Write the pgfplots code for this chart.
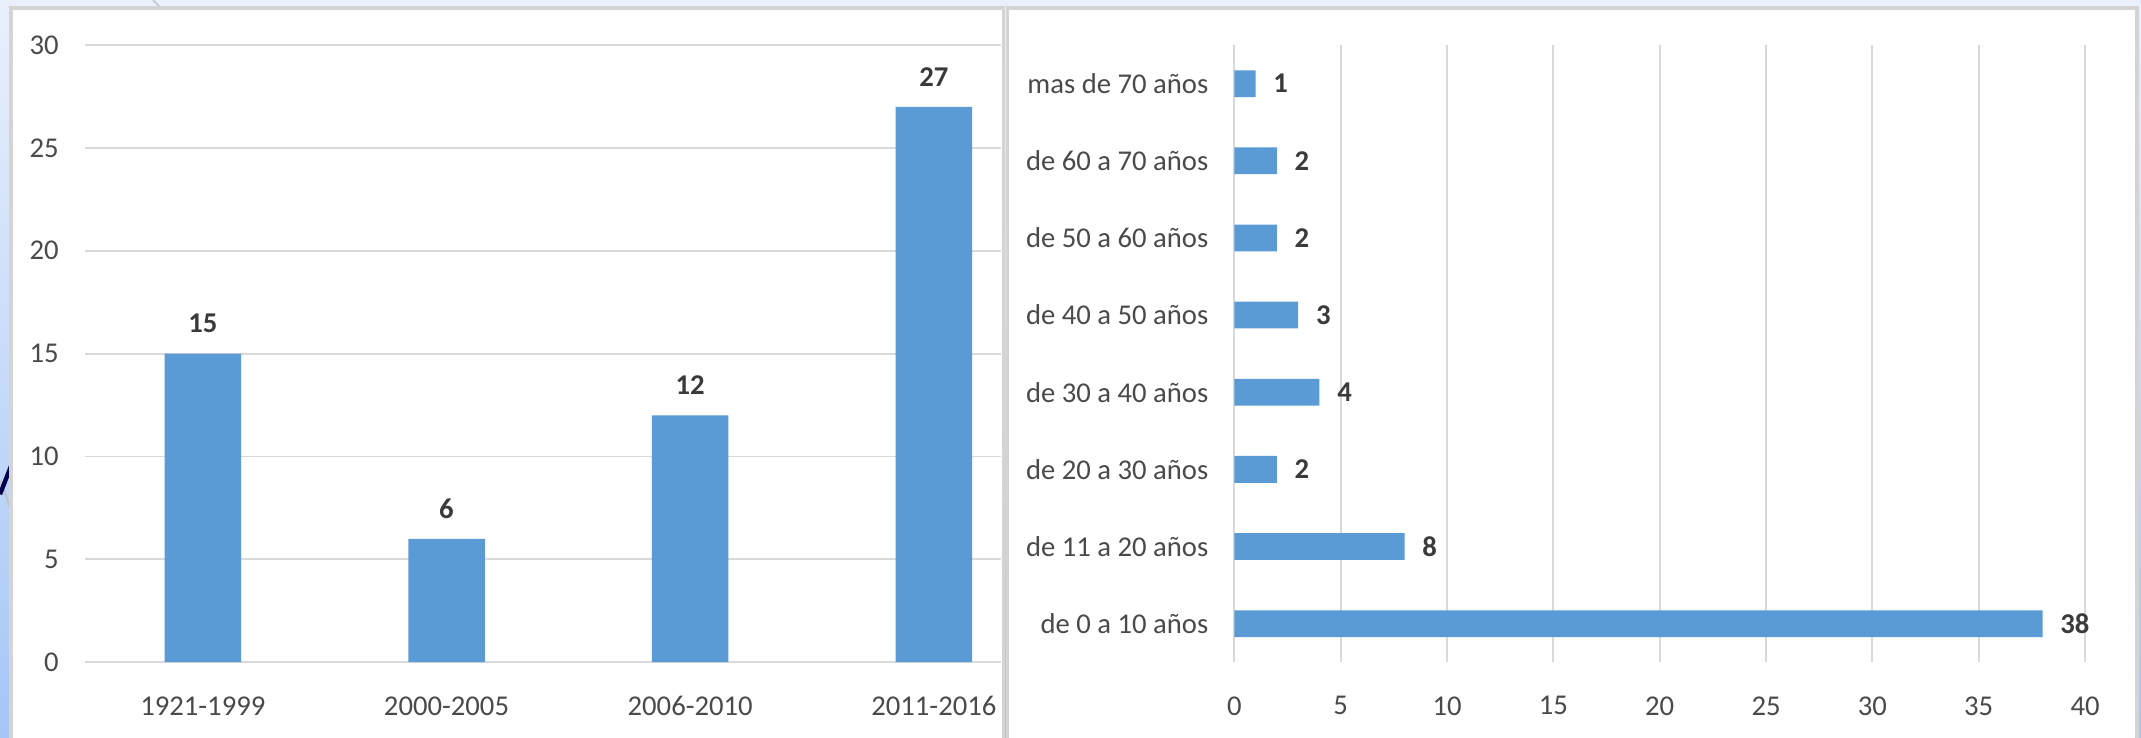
\documentclass[border=0pt]{standalone}
\usepackage{fontspec}
\setmainfont{Carlito}
\usepackage{pgfplots}
\pgfplotsset{compat=1.18}
\usetikzlibrary{shadings}

\definecolor{barblue}{HTML}{5B9BD5}
\definecolor{gridgray}{HTML}{D9D9D9}
\definecolor{ticktext}{HTML}{4A4A4A}
\definecolor{labeltext}{HTML}{3A3A3A}
\definecolor{panelborder}{HTML}{D4D4D4}
\definecolor{bgtop}{HTML}{E9F0FC}
\definecolor{bgbottom}{HTML}{A6C6F6}

\pgfplotsset{
  excelstyle/.style={
    scale only axis,
    anchor=south west,
    axis line style={draw=none},
    major tick length=0pt,
    grid style={gridgray, line width=0.7pt},
    /pgf/number format/assume math mode=true,
    tick label style={font=\fontsize{10.5}{12}\selectfont, text=ticktext},
    nodes near coords,
    every node near coord/.append style={font=\bfseries\fontsize{10.5}{12}\selectfont, text=labeltext},
  },
}

\begin{document}
\begin{tikzpicture}[x=0.5pt,y=0.5pt]
% units: pixels of a 1568x540 frame
\path[use as bounding box] (0,0) rectangle (1568,540);
\begin{scope}
\clip (0,0) rectangle (1568,540);
\shade[top color=bgtop, bottom color=bgbottom] (0,0) rectangle (1568,540);
\draw[bgtop!60!gray, line width=0.8] (0,188) -- (9,165);
\draw[bgtop!70!gray, line width=0.8] (112,540) -- (118,534);
\draw[black!70!blue, line width=1.6] (0,178) -- (9,201);
\fill[white, draw=panelborder, line width=1.3] (8,-5) rectangle (735,534);
\fill[white, draw=panelborder, line width=1.3] (738,-5) rectangle (1565,534);
\end{scope}

% left: counts per period
\begin{axis}[
  excelstyle,
  at={(31pt,27.5pt)},
  width=335.5pt, height=226pt,
  ybar, bar width=28pt,
  xmin=-0.485, xmax=3.275, ymin=0, ymax=30,
  xtick={0,1,2,3},
  xticklabels={1921-1999,2000-2005,2006-2010,2011-2016},
  ytick={0,5,10,15,20,25,30},
  ymajorgrids,
  xticklabel style={yshift=-9pt},
  yticklabel style={xshift=-6pt},
  every node near coord/.append style={yshift=4pt},
]
\addplot[fill=barblue, draw=none] coordinates {(0,15) (1,6) (2,12) (3,27)};
\end{axis}

% right: counts per age range
\begin{axis}[
  excelstyle,
  at={(452pt,27.5pt)},
  width=311.5pt, height=226pt,
  xbar, bar width=9.8pt,
  xmin=0, xmax=40, ymin=-0.5, ymax=7.5,
  xtick={0,5,10,15,20,25,30,35,40},
  ytick={0,1,2,3,4,5,6,7},
  yticklabels={de 0 a 10 años, de 11 a 20 años, de 20 a 30 años, de 30 a 40 años,
               de 40 a 50 años, de 50 a 60 años, de 60 a 70 años, mas de 70 años},
  xmajorgrids,
  xticklabel style={yshift=-9pt},
  yticklabel style={xshift=-6pt},
  point meta=x,
  nodes near coords align={horizontal},
  every node near coord/.append style={xshift=3pt},
]
\addplot[fill=barblue, draw=none] coordinates {
  (38,0) (8,1) (2,2) (4,3) (3,4) (2,5) (2,6) (1,7)
};
\end{axis}
\end{tikzpicture}
\end{document}
